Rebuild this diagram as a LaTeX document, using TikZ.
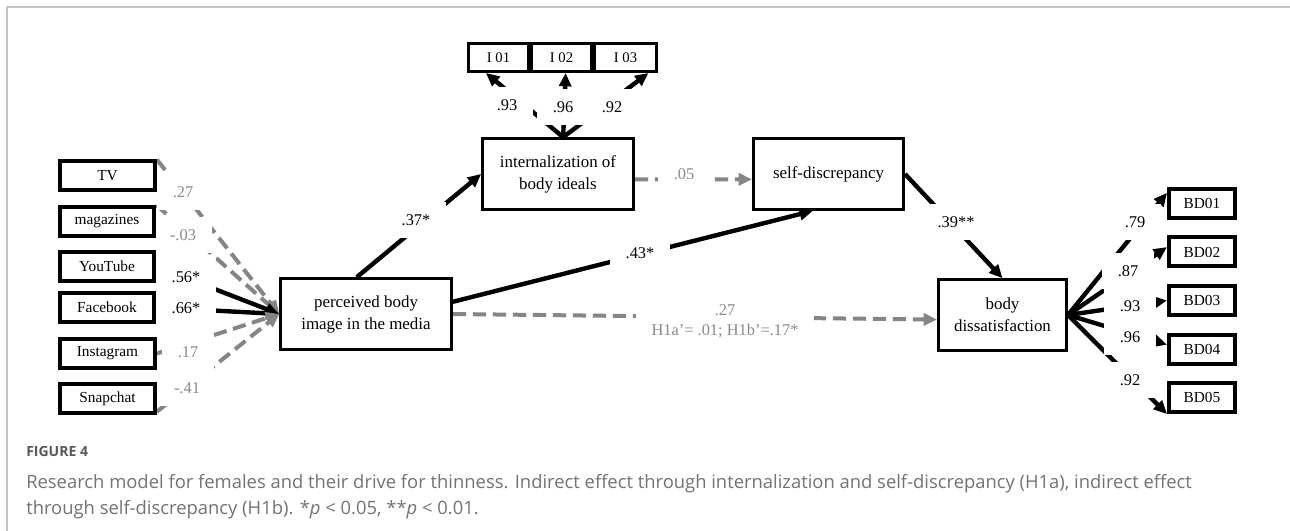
\documentclass[tikz,border=0pt]{standalone}
\usepackage{fontspec}
\setmainfont{Liberation Serif}
\newfontfamily\capfont{Open Sans}
\usetikzlibrary{arrows.meta}
\pgfdeclarelayer{bg}
\pgfdeclarelayer{lines}
\pgfdeclarelayer{labels}
\pgfsetlayers{bg,lines,labels,main}
\definecolor{dgray}{HTML}{858585}
\definecolor{lblgray}{HTML}{8A8A8A}
\definecolor{capgray}{HTML}{737373}
\definecolor{figgray}{HTML}{585858}
\definecolor{framegray}{HTML}{C4C4C4}
\begin{document}
\begin{tikzpicture}[x=0.75pt,y=-0.75pt,
  ind/.style={draw, fill=white, line width=3pt, minimum width=71pt, minimum height=21.75pt, inner sep=0pt, font=\fontsize{11.5}{13}\selectfont},
  iind/.style={draw, fill=white, line width=2.25pt, minimum width=45pt, minimum height=21pt, inner sep=0pt, font=\fontsize{11}{12}\selectfont},
  bdind/.style={draw, fill=white, line width=3pt, minimum width=49.5pt, minimum height=21.75pt, inner sep=0pt, font=\fontsize{11.5}{13}\selectfont},
  latent/.style={draw, fill=white, line width=2.25pt, minimum height=53pt, inner sep=0pt, align=center, font=\fontsize{12.7}{16.5}\selectfont},
  blk/.style={line width=3.3pt, -{Triangle[length=10pt,width=9pt]}},
  gry/.style={line width=3pt, draw=dgray, dash pattern=on 10pt off 5pt, -{Triangle[length=10pt,width=9pt,fill=dgray]}},
  lab/.style={fill=white, inner xsep=12pt, inner ysep=9pt, font=\fontsize{12.3}{15}\selectfont},
  glab/.style={lab, text=lblgray}
]
\useasboundingbox (0,0) rectangle (1290,531);
\begin{pgfonlayer}{bg}
\fill[white] (0,0) rectangle (1290,531);
\draw[framegray, line width=1.5pt] (7,531) -- (7,7) -- (1290,7);
\end{pgfonlayer}

% formative indicators
\node[ind] (tv)  at (107.5,176)   {TV};
\node[ind] (mag) at (107,221.5)   {magazines};
\node[ind] (yt)  at (107,266.5)   {YouTube};
\node[ind] (fb)  at (107,307.5)   {Facebook};
\node[ind] (ig)  at (107.5,353.5) {Instagram};
\node[ind] (sc)  at (107.5,398.5) {Snapchat};

% latent variables
\node[latent, minimum width=128pt] (perc)  at (366,314)   {perceived body\\image in the media};
\node[latent, minimum width=113pt] (int)   at (558,174)   {internalization of\\body ideals};
\node[latent, minimum width=112.5pt] (selfd) at (828.5,174) {self-discrepancy};
\node[latent, minimum width=96pt] (bdiss) at (1002.5,315) {body\\dissatisfaction};

% internalization items
\node[iind] (i1) at (498.5,57.5) {I 01};
\node[iind] (i2) at (561.5,57.5) {I 02};
\node[iind, minimum width=46.5pt] (i3) at (625.5,57.5) {I 03};

% body dissatisfaction items
\node[bdind] (bd1) at (1202,203.5) {BD01};
\node[bdind] (bd2) at (1202,252)   {BD02};
\node[bdind] (bd3) at (1202,300.5) {BD03};
\node[bdind] (bd4) at (1202,349)   {BD04};
\node[bdind] (bd5) at (1202,397.5) {BD05};

\begin{pgfonlayer}{lines}
  \draw[gry] (tv.north east) -- (perc.west);
  \draw[gry] (mag.north east) -- (perc.west);
  \draw[blk] (yt.east) -- (perc.west);
  \draw[blk] (fb.east) -- (perc.west);
  \draw[gry] (ig.east) -- (perc.west);
  \draw[gry] (sc.-15) -- (perc.west);

  \draw[blk] (perc.104) -- (int.west);
  \draw[blk] (perc.8) -- (selfd.247);
  \draw[gry] (int.-4) -- (selfd.184.5);
  \draw[blk] (selfd.east) -- (bdiss.north);
  \draw[gry] (perc.east) -- (bdiss.184);

  \draw[blk] (int.82) -- (i1.231);
  \draw[blk] (int.82) -- (i2.-75);
  \draw[blk] (int.82) -- (i3.-34);

  \draw[blk] (bdiss.east) -- (bd1.163);
  \draw[blk] (bdiss.east) -- (bd2.172);
  \draw[blk] (bdiss.east) -- (bd3.west);
  \draw[blk] (bdiss.east) -- (bd4.173.5);
  \draw[blk] (bdiss.east) -- (bd5.south west);
\end{pgfonlayer}

\begin{pgfonlayer}{labels}
  \node[glab] (l1) at (183,192) {.27};
  \node[glab] (l2) at (183,235) {-.03};
  \node[lab]  (l3) at (186,277) {.56*};
  \node[lab]  (l4) at (186,308) {.66*};
  \node[glab] (l5) at (188,352) {.17};
  \node[glab] (l6) at (187,388) {-.41};

  \node[lab]  (l7) at (416,220) {.37*};
  \node[lab]  (l8) at (640,253) {.43*};
  \node[glab] (l9) at (684,174) {.05};
  \node[lab]  (l10) at (956,222) {.39**};
  \node[glab, align=center] (l11) at (725,321) {.27\\H1a’= .01; H1b’=.17*};

  \node[lab] (l12) at (507,105) {.93};
  \node[lab] (l13) at (563,107) {.96};
  \node[lab] (l14) at (612,107) {.92};

  \node[lab] (l15) at (1135,222) {.79};
  \node[lab] (l16) at (1128,271) {.87};
  \node[lab] (l17) at (1130,306) {.93};
  \node[lab] (l18) at (1130,337) {.96};
  \node[lab] (l19) at (1130,380) {.92};
\end{pgfonlayer}

% caption
\node[anchor=west, inner sep=0pt, text=figgray, font=\capfont\bfseries\fontsize{10.5}{12}\selectfont] (fig) at (26,451) {FIGURE 4};
\node[anchor=west, inner sep=0pt, text=capgray, font=\capfont\fontsize{13.8}{16}\selectfont] (cap1) at (26,484) {Research model for females and their drive for thinness. Indirect effect through internalization and self-discrepancy (H1a), indirect effect};
\node[anchor=west, inner sep=0pt, text=capgray, font=\capfont\fontsize{13.8}{16}\selectfont] (cap2) at (26,510) {through self-discrepancy (H1b). *\textit{p} < 0.05, **\textit{p} < 0.01.};
\end{tikzpicture}
\end{document}
